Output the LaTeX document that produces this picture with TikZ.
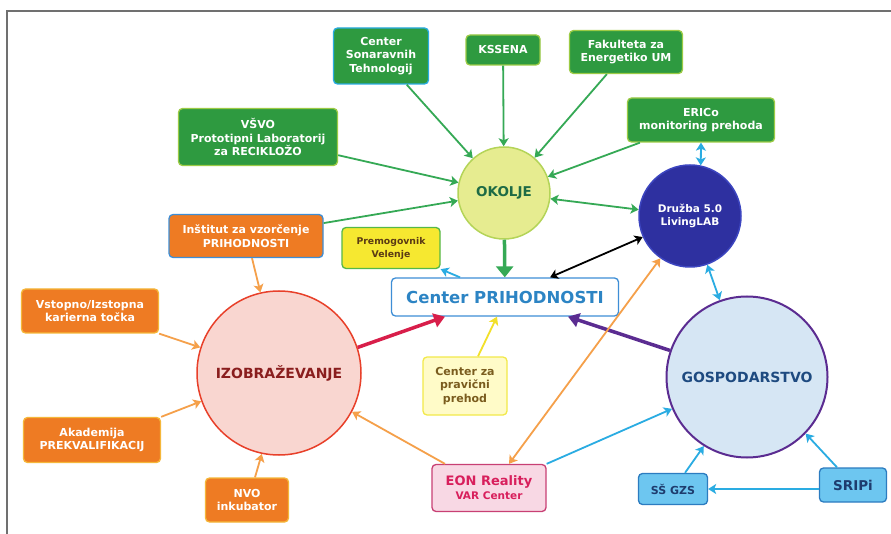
\documentclass[tikz,border=0pt]{standalone}
\usepackage{fontspec}
\setmainfont{DejaVu Sans}
\usetikzlibrary{arrows.meta}
\definecolor{gbox}{HTML}{2E9A40}
\definecolor{gbord}{HTML}{9CCB45}
\definecolor{gline}{HTML}{35A955}
\definecolor{obox}{HTML}{EE7B23}
\definecolor{obord}{HTML}{F5B73A}
\definecolor{oline}{HTML}{F5A04A}
\definecolor{bline}{HTML}{2AACE2}
\definecolor{cpblue}{HTML}{3E8ED6}
\definecolor{cptext}{HTML}{2C84C4}
\definecolor{okfill}{HTML}{E6EC90}
\definecolor{okbord}{HTML}{B4D458}
\definecolor{oktext}{HTML}{1E6B45}
\definecolor{drfill}{HTML}{2E30A0}
\definecolor{drbord}{HTML}{3C45C0}
\definecolor{izfill}{HTML}{F9D6D0}
\definecolor{izbord}{HTML}{E8402A}
\definecolor{iztext}{HTML}{8A1E1E}
\definecolor{gsfill}{HTML}{D6E6F4}
\definecolor{purp}{HTML}{5B2C91}
\definecolor{gstext}{HTML}{1E4A80}
\definecolor{redar}{HTML}{D81E4A}
\definecolor{ssfill}{HTML}{6DC6F0}
\definecolor{ssbord}{HTML}{2C7CC0}
\definecolor{sstext}{HTML}{1E3C6E}
\definecolor{prfill}{HTML}{FFFBC8}
\definecolor{prbord}{HTML}{F2E94A}
\definecolor{prtext}{HTML}{7A5C1E}
\definecolor{yline}{HTML}{F2E02A}
\definecolor{pmfill}{HTML}{F6E830}
\definecolor{pmbord}{HTML}{55B848}
\definecolor{pmtext}{HTML}{5A3A14}
\definecolor{eofill}{HTML}{F8D8E4}
\definecolor{eobord}{HTML}{C84074}
\definecolor{eotext}{HTML}{D81F5C}
\definecolor{frame}{HTML}{707070}
\tikzset{
  box/.style={rectangle, rounded corners=4pt, line width=1.3pt, align=center,
    inner sep=2pt, font=\bfseries\fontsize{11}{13.5}\selectfont},
  gbx/.style={box, fill=gbox, draw=gbord, text=white},
  obx/.style={box, fill=obox, draw=obord, text=white},
  sbx/.style={box, fill=ssfill, draw=ssbord, text=sstext},
  hub/.style={circle, line width=1.5pt, inner sep=0pt, align=center},
  tip/.style={-{Stealth[length=8pt,width=10pt,inset=2pt]}},
  dtip/.style={{Stealth[length=8pt,width=10pt,inset=2pt]}-{Stealth[length=8pt,width=10pt,inset=2pt]}},
  gar/.style={tip, draw=gline, line width=1.8pt},
  oar/.style={tip, draw=oline, line width=1.8pt},
  bar/.style={tip, draw=bline, line width=1.8pt},
}
\begin{document}
\begin{tikzpicture}[x=1pt,y=-1pt]
\useasboundingbox (0,0) rectangle (891,534);
\fill[white] (0,0) rectangle (891,534);
\draw[frame, line width=1.5pt] (7,534) -- (7,11) -- (891,11);

% nodes
\node[gbx, draw=bline, minimum width=95pt, minimum height=56pt] (cst) at (381,56) {Center\\Sonaravnih\\Tehnologij};
\node[gbx, minimum width=74pt, minimum height=30pt] (kss) at (503,50) {KSSENA};
\node[gbx, minimum width=113pt, minimum height=43pt] (fak) at (626,52) {Fakulteta za\\Energetiko UM};
\node[gbx, minimum width=147pt, minimum height=44pt] (eri) at (701,120) {ERICo\\monitoring prehoda};
\node[gbx, minimum width=159pt, minimum height=57pt] (vsv) at (258,137) {VŠVO\\Prototipni Laboratorij\\za RECIKLOŽO};
\node[obx, draw=cpblue, minimum width=154pt, minimum height=43pt] (ins) at (246,236) {Inštitut za vzorčenje\\PRIHODNOSTI};
\node[box, fill=pmfill, draw=pmbord, text=pmtext, minimum width=98pt, minimum height=41pt,
  font=\bfseries\fontsize{9.3}{13}\selectfont] (prem) at (391,248) {Premogovnik\\Velenje};
\node[box, fill=white, draw=cpblue, text=cptext, minimum width=227pt, minimum height=38pt,
  font=\bfseries\fontsize{16.5}{18}\selectfont] (cp) at (505,297) {Center PRIHODNOSTI};
\node[hub, fill=okfill, draw=okbord, text=oktext, minimum size=92pt,
  font=\bfseries\fontsize{13.5}{15}\selectfont] (oko) at (504,193) {OKOLJE};
\node[hub, fill=drfill, draw=drbord, text=white, minimum size=102pt,
  font=\bfseries\fontsize{10.5}{13}\selectfont] (dru) at (690,216) {Družba 5.0\\LivingLAB};
\node[hub, fill=izfill, draw=izbord, text=iztext, minimum size=164pt,
  font=\bfseries\fontsize{14}{16}\selectfont] (izo) at (279,373) {IZOBRAŽEVANJE};
\node[hub, fill=gsfill, draw=purp, line width=2pt, text=gstext, minimum size=161pt,
  font=\bfseries\fontsize{14}{16}\selectfont] (gos) at (747,377) {GOSPODARSTVO};
\node[obx, minimum width=137pt, minimum height=44pt] (vst) at (90,311) {Vstopno/Izstopna\\karierna točka};
\node[obx, minimum width=137pt, minimum height=45pt] (aka) at (92,440) {Akademija\\PREKVALIFIKACIJ};
\node[obx, minimum width=83pt, minimum height=44pt] (nvo) at (247,500) {NVO\\inkubator};
\node[box, fill=prfill, draw=prbord, text=prtext, minimum width=84pt, minimum height=58pt] (pra) at (465,386) {Center za\\pravični\\prehod};
\node[box, fill=eofill, draw=eobord, text=eotext, minimum width=114pt, minimum height=47pt,
  font=\bfseries\fontsize{10.5}{14}\selectfont] (eon) at (489,488) {{\fontsize{13}{14}\selectfont EON Reality}\\VAR Center};
\node[sbx, minimum width=69pt, minimum height=31pt] (ssg) at (673,489) {SŠ GZS};
\node[sbx, minimum width=67pt, minimum height=34pt, font=\bfseries\fontsize{13.5}{15}\selectfont] (sri) at (853,485) {SRIPi};

% green connectors into OKOLJE
\draw[gar] (cst) -- (oko);
\draw[gar] (kss) -- (oko);
\draw[gar] (fak) -- (oko);
\draw[gar] (eri) -- (oko);
\draw[gar] (vsv) -- (oko);
\draw[gar] (ins) -- (oko);
\draw[gar, dtip] (oko) -- (dru);
\draw[draw=gline, line width=3.5pt, -{Triangle[length=11pt,width=17pt]}] (oko) -- (cp);

% blue around Druzba
\draw[bar, dtip] (eri.south) -- (dru.78);
\draw[bar, dtip] (dru) -- (gos);
\draw[black, line width=1.8pt, dtip] ([xshift=45pt]cp.north) -- (dru.204);
\draw[bar] ([xshift=-45pt]cp.north) -- (prem.south east);

% into Center PRIHODNOSTI
\draw[redar, line width=3.5pt, -{Triangle[length=11pt,width=14pt]}] (izo.18) -- ([xshift=-60pt]cp.south);
\draw[purp, line width=3.5pt, -{Triangle[length=11pt,width=14pt]}] (gos.161) -- ([xshift=63pt]cp.south);
\draw[tip, draw=yline, line width=1.8pt] ([xshift=13pt]pra.north) -- ([xshift=-8pt]cp.south);

% EON
\draw[oar, dtip] ([xshift=20pt]eon.north) -- (dru.235);
\draw[oar] ([xshift=-44pt]eon.north) -- (izo.-28);
\draw[bar] (eon.north east) -- (gos.203);

% Gospodarstvo inputs
\draw[bar] ([xshift=12pt]ssg.north) -- (gos.238);
\draw[bar] ([xshift=-16pt]sri.north) -- (gos.316);
\draw[bar] (ssg.east -| sri.west) -- (ssg.east);

% Izobrazevanje inputs
\draw[oar] ([xshift=6pt]ins.south) -- (izo.103);
\draw[oar] (vst.south east) -- (izo.162);
\draw[oar] (aka.north east) -- (izo.200);
\draw[oar] ([xshift=8pt]nvo.north) -- (izo.258);
\end{tikzpicture}
\end{document}
